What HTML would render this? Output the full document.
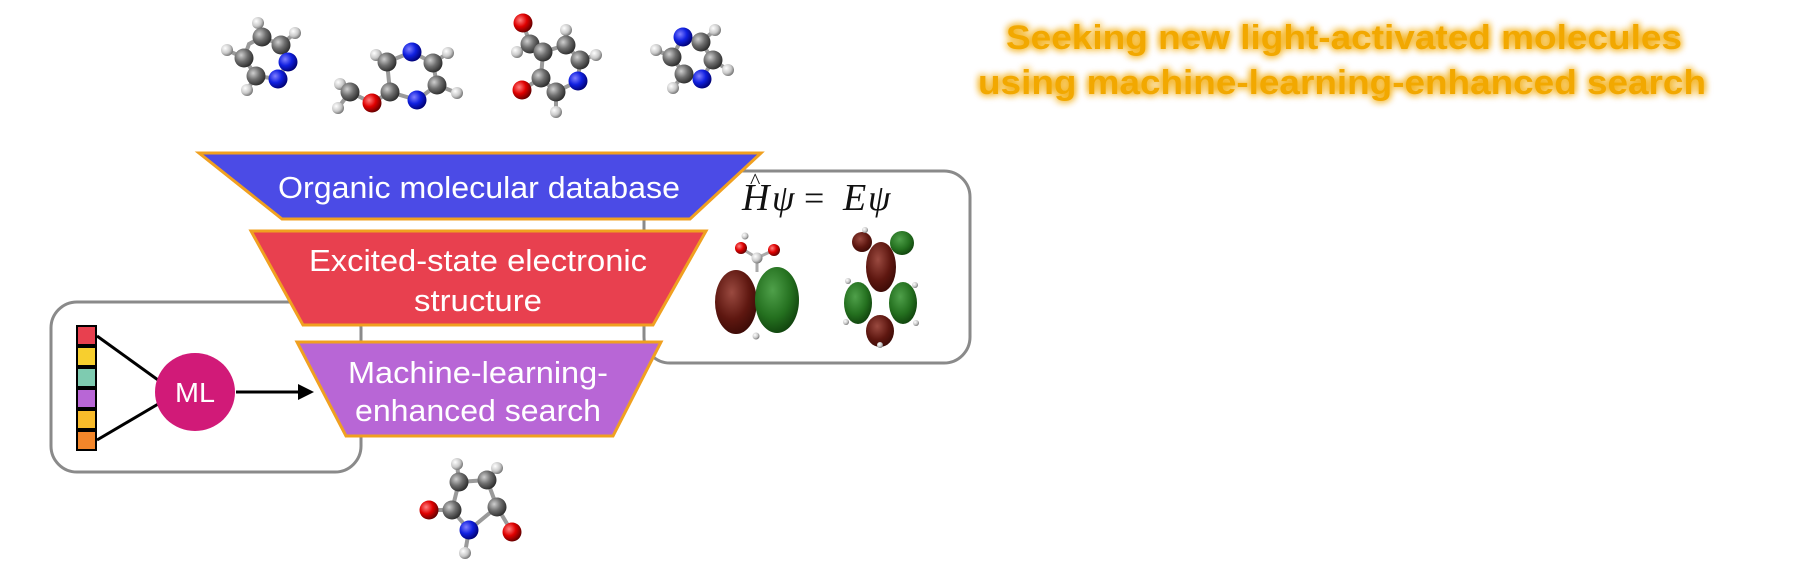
<!DOCTYPE html>
<html><head><meta charset="utf-8"><style>
html,body{margin:0;padding:0;background:#fff;}
svg{display:block}
</style></head><body>
<svg width="1800" height="577" viewBox="0 0 1800 577" xmlns="http://www.w3.org/2000/svg">
<defs>
<radialGradient id="gC" cx="35%" cy="35%" r="70%"><stop offset="0" stop-color="#cfcfcf"/><stop offset="0.5" stop-color="#6e6e6e"/><stop offset="1" stop-color="#2a2a2a"/></radialGradient>
<radialGradient id="gN" cx="35%" cy="35%" r="70%"><stop offset="0" stop-color="#8080ff"/><stop offset="0.5" stop-color="#1020e0"/><stop offset="1" stop-color="#000070"/></radialGradient>
<radialGradient id="gO" cx="35%" cy="35%" r="70%"><stop offset="0" stop-color="#ff8080"/><stop offset="0.5" stop-color="#e00000"/><stop offset="1" stop-color="#600000"/></radialGradient>
<radialGradient id="gH" cx="35%" cy="35%" r="70%"><stop offset="0" stop-color="#ffffff"/><stop offset="0.6" stop-color="#c8c8c8"/><stop offset="1" stop-color="#707070"/></radialGradient>
<radialGradient id="gR" cx="40%" cy="35%" r="70%"><stop offset="0" stop-color="#9a4a40"/><stop offset="0.6" stop-color="#5e1710"/><stop offset="1" stop-color="#3a0a06"/></radialGradient>
<radialGradient id="gG" cx="40%" cy="35%" r="70%"><stop offset="0" stop-color="#4fa04a"/><stop offset="0.6" stop-color="#24701f"/><stop offset="1" stop-color="#0f400c"/></radialGradient>
<filter id="glow" x="-10%" y="-50%" width="120%" height="200%"><feGaussianBlur stdDeviation="4" result="b"/><feMerge><feMergeNode in="b"/><feMergeNode in="b"/><feMergeNode in="SourceGraphic"/></feMerge></filter>
</defs>

<!-- Title -->
<g font-family="Liberation Sans, sans-serif" font-weight="bold" font-size="34" fill="#f2a800" text-anchor="middle" filter="url(#glow)">
<text x="1344" y="49" textLength="676" lengthAdjust="spacingAndGlyphs">Seeking new light-activated molecules</text>
<text x="1342" y="94" textLength="728" lengthAdjust="spacingAndGlyphs">using machine-learning-enhanced search</text>
</g>

<!-- boxes -->
<rect x="644" y="171" width="326" height="192" rx="26" fill="#fff" stroke="#8a8a8a" stroke-width="3"/>
<rect x="51" y="302" width="310" height="170" rx="26" fill="#fff" stroke="#8a8a8a" stroke-width="3"/>

<!-- funnels -->
<polygon points="199,153 761,153 690,219 282,219" fill="#4b4be6" stroke="#f0a020" stroke-width="3"/>
<polygon points="251,231 706,231 653,325 303,325" fill="#e8404f" stroke="#f0a020" stroke-width="3"/>
<polygon points="297,342 661,342 613,436 346,436" fill="#b866d6" stroke="#f0a020" stroke-width="3"/>
<g font-family="Liberation Sans, sans-serif" font-size="31" fill="#fff" text-anchor="middle">
<text x="479" y="198" textLength="402" lengthAdjust="spacingAndGlyphs">Organic molecular database</text>
<text x="478" y="271" textLength="338" lengthAdjust="spacingAndGlyphs">Excited-state electronic</text>
<text x="478" y="311" textLength="128" lengthAdjust="spacingAndGlyphs">structure</text>
<text x="478" y="383" textLength="260" lengthAdjust="spacingAndGlyphs">Machine-learning-</text>
<text x="478" y="421" textLength="246" lengthAdjust="spacingAndGlyphs">enhanced search</text>
</g>

<!-- ML -->
<line x1="97" y1="336" x2="165" y2="385" stroke="#000" stroke-width="3"/>
<line x1="97" y1="440" x2="165" y2="400" stroke="#000" stroke-width="3"/>
<g stroke="#000" stroke-width="2">
<rect x="77" y="326" width="19" height="19" fill="#e8404f"/>
<rect x="77" y="347" width="19" height="19" fill="#f7cf2e"/>
<rect x="77" y="368" width="19" height="19" fill="#7ecbb0"/>
<rect x="77" y="389" width="19" height="19" fill="#b866d6"/>
<rect x="77" y="410" width="19" height="19" fill="#f8bb2a"/>
<rect x="77" y="431" width="19" height="19" fill="#f3862a"/>
</g>
<ellipse cx="195" cy="392" rx="40" ry="39" fill="#d11a78"/>
<text x="195" y="402" font-family="Liberation Sans, sans-serif" font-size="28" fill="#fff" text-anchor="middle" textLength="40" lengthAdjust="spacingAndGlyphs">ML</text>
<line x1="236" y1="392" x2="298" y2="392" stroke="#000" stroke-width="3"/>
<polygon points="298,384 314,392 298,400" fill="#000"/>

<!-- equation -->
<text x="742" y="210" font-family="Liberation Serif, serif" font-style="italic" font-size="38" fill="#111">H</text>
<text x="750" y="188" font-family="Liberation Serif, serif" font-size="22" fill="#111">^</text>
<text x="772" y="210" font-family="Liberation Serif, serif" font-style="italic" font-size="36" fill="#111">ψ</text>
<text x="804" y="210" font-family="Liberation Serif, serif" font-size="36" fill="#111">=</text>
<text x="843" y="210" font-family="Liberation Serif, serif" font-style="italic" font-size="38" fill="#111">E</text>
<text x="868" y="210" font-family="Liberation Serif, serif" font-style="italic" font-size="36" fill="#111">ψ</text>

<!-- orbital 1 -->
<ellipse cx="736" cy="302" rx="21" ry="32" fill="url(#gR)"/>
<ellipse cx="777" cy="300" rx="22" ry="33" fill="url(#gG)"/>
<line x1="741" y1="248" x2="757" y2="258" stroke="#aaa" stroke-width="3"/>
<line x1="774" y1="250" x2="757" y2="258" stroke="#aaa" stroke-width="3"/>
<line x1="757" y1="258" x2="757" y2="272" stroke="#aaa" stroke-width="3"/>
<circle cx="745" cy="236" r="3.5" fill="url(#gH)"/>
<circle cx="741" cy="248" r="6" fill="url(#gO)"/>
<circle cx="774" cy="250" r="6" fill="url(#gO)"/>
<circle cx="757" cy="258" r="5.5" fill="url(#gH)"/>
<circle cx="756" cy="336" r="3.5" fill="url(#gH)"/>
<!-- orbital 2 -->
<circle cx="862" cy="242" r="10" fill="url(#gR)"/>
<circle cx="902" cy="243" r="12" fill="url(#gG)"/>
<ellipse cx="881" cy="267" rx="15" ry="25" fill="url(#gR)"/>
<ellipse cx="858" cy="303" rx="14" ry="21" fill="url(#gG)"/>
<ellipse cx="903" cy="303" rx="14" ry="21" fill="url(#gG)"/>
<ellipse cx="880" cy="331" rx="14" ry="16" fill="url(#gR)"/>
<circle cx="848" cy="281" r="3" fill="url(#gH)"/>
<circle cx="915" cy="285" r="3" fill="url(#gH)"/>
<circle cx="846" cy="322" r="3" fill="url(#gH)"/>
<circle cx="916" cy="323" r="3" fill="url(#gH)"/>
<circle cx="865" cy="230" r="3" fill="url(#gH)"/>
<circle cx="880" cy="345" r="3" fill="url(#gH)"/>

<!-- molecules -->
<g stroke="#9a9a9a" stroke-width="4">
<polyline points="262,37 281,45 288,62 278,79 256,76 244,58 249,44 262,37" fill="none"/>
<line x1="262" y1="37" x2="258" y2="23"/><line x1="281" y1="45" x2="295" y2="33"/>
<line x1="244" y1="58" x2="227" y2="50"/><line x1="256" y1="76" x2="247" y2="90"/>
<polyline points="387,62 412,52 433,63 437,85 417,100 390,92 387,62" fill="none"/>
<line x1="387" y1="62" x2="376" y2="55"/><line x1="433" y1="63" x2="448" y2="53"/>
<line x1="437" y1="85" x2="457" y2="93"/><line x1="390" y1="92" x2="372" y2="103"/>
<line x1="372" y1="103" x2="350" y2="92"/><line x1="350" y1="92" x2="338" y2="108"/><line x1="350" y1="92" x2="340" y2="84"/>
<polyline points="543,52 566,45 580,60 578,81 556,92 541,78 543,52" fill="none"/>
<line x1="543" y1="52" x2="530" y2="44"/><line x1="530" y1="44" x2="523" y2="23"/><line x1="530" y1="44" x2="517" y2="52"/>
<line x1="566" y1="45" x2="566" y2="30"/><line x1="580" y1="60" x2="596" y2="55"/>
<line x1="541" y1="78" x2="522" y2="90"/><line x1="556" y1="92" x2="556" y2="112"/>
<polyline points="683,37 701,42 713,60 702,79 684,74 672,57 683,37" fill="none"/>
<line x1="701" y1="42" x2="715" y2="30"/><line x1="713" y1="60" x2="728" y2="70"/>
<line x1="672" y1="57" x2="656" y2="50"/><line x1="684" y1="74" x2="673" y2="88"/>
<g transform="translate(-8,12)">
<polyline points="460,498 467,470 495,468 505,495 477,518 460,498" fill="none"/>
<line x1="460" y1="498" x2="437" y2="498"/><line x1="505" y1="495" x2="520" y2="520"/>
<line x1="477" y1="518" x2="473" y2="541"/><line x1="467" y1="470" x2="465" y2="452"/><line x1="495" y1="468" x2="505" y2="456"/>
</g>
</g>
<g>
<circle cx="258" cy="23" r="6" fill="url(#gH)"/><circle cx="295" cy="33" r="6" fill="url(#gH)"/><circle cx="227" cy="50" r="6" fill="url(#gH)"/><circle cx="247" cy="90" r="6" fill="url(#gH)"/>
<circle cx="262" cy="37" r="9.5" fill="url(#gC)"/><circle cx="281" cy="45" r="9.5" fill="url(#gC)"/>
<circle cx="288" cy="62" r="9.5" fill="url(#gN)"/><circle cx="278" cy="79" r="9.5" fill="url(#gN)"/>
<circle cx="256" cy="76" r="9.5" fill="url(#gC)"/><circle cx="244" cy="58" r="9.5" fill="url(#gC)"/>
<circle cx="376" cy="55" r="6" fill="url(#gH)"/><circle cx="448" cy="53" r="6" fill="url(#gH)"/><circle cx="457" cy="93" r="6" fill="url(#gH)"/>
<circle cx="338" cy="108" r="6" fill="url(#gH)"/><circle cx="340" cy="84" r="6" fill="url(#gH)"/>
<circle cx="350" cy="92" r="9.5" fill="url(#gC)"/><circle cx="372" cy="103" r="9.5" fill="url(#gO)"/>
<circle cx="387" cy="62" r="9.5" fill="url(#gC)"/><circle cx="412" cy="52" r="9.5" fill="url(#gN)"/>
<circle cx="433" cy="63" r="9.5" fill="url(#gC)"/><circle cx="437" cy="85" r="9.5" fill="url(#gC)"/>
<circle cx="417" cy="100" r="9.5" fill="url(#gN)"/><circle cx="390" cy="92" r="9.5" fill="url(#gC)"/>
<circle cx="517" cy="52" r="6" fill="url(#gH)"/><circle cx="596" cy="55" r="6" fill="url(#gH)"/><circle cx="566" cy="30" r="6" fill="url(#gH)"/><circle cx="556" cy="112" r="6" fill="url(#gH)"/>
<circle cx="523" cy="23" r="9.5" fill="url(#gO)"/><circle cx="530" cy="44" r="9.5" fill="url(#gC)"/>
<circle cx="543" cy="52" r="9.5" fill="url(#gC)"/><circle cx="566" cy="45" r="9.5" fill="url(#gC)"/>
<circle cx="580" cy="60" r="9.5" fill="url(#gC)"/><circle cx="578" cy="81" r="9.5" fill="url(#gN)"/>
<circle cx="556" cy="92" r="9.5" fill="url(#gC)"/><circle cx="541" cy="78" r="9.5" fill="url(#gC)"/>
<circle cx="522" cy="90" r="9.5" fill="url(#gO)"/>
<circle cx="715" cy="30" r="6" fill="url(#gH)"/><circle cx="728" cy="70" r="6" fill="url(#gH)"/><circle cx="656" cy="50" r="6" fill="url(#gH)"/><circle cx="673" cy="88" r="6" fill="url(#gH)"/>
<circle cx="683" cy="37" r="9.5" fill="url(#gN)"/><circle cx="701" cy="42" r="9.5" fill="url(#gC)"/>
<circle cx="713" cy="60" r="9.5" fill="url(#gC)"/><circle cx="702" cy="79" r="9.5" fill="url(#gN)"/>
<circle cx="684" cy="74" r="9.5" fill="url(#gC)"/><circle cx="672" cy="57" r="9.5" fill="url(#gC)"/>
<g transform="translate(-8,12)">
<circle cx="465" cy="452" r="6" fill="url(#gH)"/><circle cx="505" cy="456" r="6" fill="url(#gH)"/><circle cx="473" cy="541" r="6" fill="url(#gH)"/>
<circle cx="437" cy="498" r="9.5" fill="url(#gO)"/><circle cx="520" cy="520" r="9.5" fill="url(#gO)"/>
<circle cx="460" cy="498" r="9.5" fill="url(#gC)"/><circle cx="467" cy="470" r="9.5" fill="url(#gC)"/>
<circle cx="495" cy="468" r="9.5" fill="url(#gC)"/><circle cx="505" cy="495" r="9.5" fill="url(#gC)"/>
<circle cx="477" cy="518" r="9.5" fill="url(#gN)"/>
</g>
</g>
</svg>
</body></html>
